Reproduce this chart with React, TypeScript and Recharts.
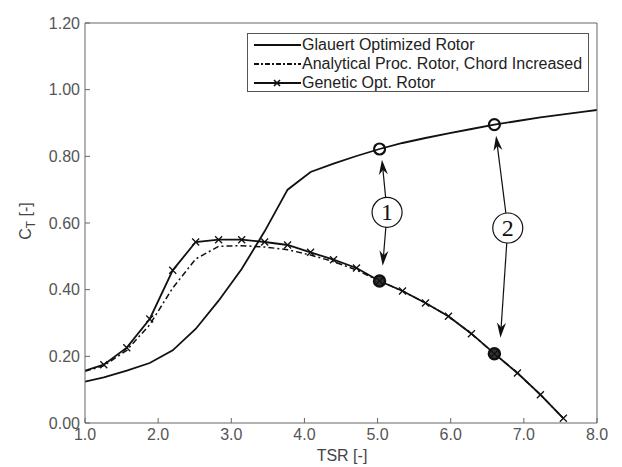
import React from 'react';
import { LineChart, Line, XAxis, YAxis, Legend, ReferenceDot, ReferenceLine, Label } from 'recharts';

// TSR sample points of the optimised rotors (k * pi / 10)
const tsrGrid = [1.257, 1.571, 1.885, 2.199, 2.513, 2.827, 3.142, 3.456, 3.77, 4.084, 4.398,
  4.712, 5.027, 5.341, 5.655, 5.969, 6.283, 6.597, 6.912, 7.226, 7.54];
const optTsr = [1.0, ...tsrGrid];
const glauertTsr = [1.0, ...tsrGrid, 7.854, 8.0];

const glauertCt = [0.124, 0.137, 0.157, 0.18, 0.218, 0.282, 0.367, 0.462, 0.575, 0.7, 0.753, 0.778,
  0.801, 0.822, 0.84, 0.855, 0.869, 0.882, 0.895, 0.906, 0.917, 0.926, 0.935, 0.939];
const analyticalCt = [0.155, 0.172, 0.218, 0.295, 0.405, 0.492, 0.53, 0.532, 0.528, 0.52, 0.504,
  0.484, 0.459, 0.426, 0.396, 0.36, 0.32, 0.268, 0.208, 0.15, 0.085, 0.014];
const geneticCt = [0.157, 0.175, 0.226, 0.312, 0.458, 0.543, 0.55, 0.55, 0.543, 0.534, 0.512,
  0.49, 0.465, 0.426, 0.396, 0.36, 0.32, 0.268, 0.208, 0.15, 0.085, 0.014];

const xTicks = [1, 2, 3, 4, 5, 6, 7, 8];
const yTicks = [0, 0.2, 0.4, 0.6, 0.8, 1.0, 1.2];

// design points (1) and (2)
const designTsr = [5.027, 6.597];
const designGlauert = [0.822, 0.895];
const designGenetic = [0.426, 0.208];
const calloutTsr = [5.13, 6.78];
const calloutCt = [0.632, 0.585];
const calloutLabels = ['1', '2'];
const arrowUpTip = [{ x: 5.06, y: 0.79 }, { x: 6.62, y: 0.862 }];
const arrowDownTip = [{ x: 5.07, y: 0.472 }, { x: 6.68, y: 0.256 }];

const glauertData = glauertTsr.map((tsr, i) => ({ tsr, ct: glauertCt[i] }));
const analyticalData = optTsr.map((tsr, i) => ({ tsr, ct: analyticalCt[i] }));
const geneticData = optTsr.map((tsr, i) => ({ tsr, ct: geneticCt[i] }));

const FONT = '"Liberation Sans", Arial, Helvetica, sans-serif';
const AXIS = '#666';
const INK = '#111';

const CrossDot = (props: any) => {
  const { cx, cy, index } = props;
  if (index === 0 || cx == null) return <g key={`c${index}`} />;
  const s = 3.5;
  return (
    <path key={`c${index}`} d={`M${cx - s},${cy - s}L${cx + s},${cy + s}M${cx - s},${cy + s}L${cx + s},${cy - s}`}
      stroke={INK} strokeWidth={1.3} fill="none" />
  );
};

const OpenCircle = (props: any) => (
  <circle cx={props.cx} cy={props.cy} r={5.5} fill="none" stroke={INK} strokeWidth={2.2} />
);

const HeavyCircle = (props: any) => (
  <circle cx={props.cx} cy={props.cy} r={5.5} fill="#333" stroke={INK} strokeWidth={2.5} />
);

const makeCallout = (text: string) => (props: any) => (
  <g>
    <circle cx={props.cx} cy={props.cy} r={15} fill="#fff" stroke={INK} strokeWidth={1.2} />
    <text x={props.cx} y={props.cy + 8} textAnchor="middle" fontFamily='"Liberation Serif", "DejaVu Serif", serif'
      fontSize={24} fill={INK}>{text}</text>
  </g>
);

// line from the callout circle's edge to the tip, with a notched arrow head
const Arrow = (props: any) => {
  const { x1, y1, x2, y2 } = props;
  const dx = x2 - x1;
  const dy = y2 - y1;
  const len = Math.sqrt(dx * dx + dy * dy) || 1;
  const ux = dx / len;
  const uy = dy / len;
  const sx = x1 + ux * 15;
  const sy = y1 + uy * 15;
  const head = 15;
  const half = 4.5;
  const bx = x2 - ux * head;
  const by = y2 - uy * head;
  const nx = x2 - ux * head * 0.7;
  const ny = y2 - uy * head * 0.7;
  return (
    <g>
      <line x1={sx} y1={sy} x2={nx} y2={ny} stroke={INK} strokeWidth={1.2} />
      <path d={`M${x2},${y2}L${bx - uy * half},${by + ux * half}L${nx},${ny}L${bx + uy * half},${by - ux * half}Z`}
        fill={INK} />
    </g>
  );
};

const legendItems = [
  { name: 'Glauert Optimized Rotor', dash: undefined, cross: false },
  { name: 'Analytical Proc. Rotor, Chord Increased', dash: '5 2 2 2', cross: false },
  { name: 'Genetic Opt. Rotor', dash: undefined, cross: true },
];

const LegendBox = () => (
  <div style={{
    width: 340, height: 56, border: '1px solid #555', background: '#fff', boxSizing: 'content-box',
    fontFamily: FONT, fontSize: 16, color: '#222', paddingTop: 1,
  }}>
    {legendItems.map((item) => (
      <div key={item.name} style={{ display: 'flex', alignItems: 'center', height: 19 }}>
        <svg width={49} height={12} style={{ marginLeft: 5 }}>
          <line x1={1} y1={6} x2={48} y2={6} stroke={INK} strokeWidth={1.8} strokeDasharray={item.dash} />
          {item.cross && <path d="M21,3L27,9M21,9L27,3" stroke={INK} strokeWidth={1.6} />}
        </svg>
        <span style={{ whiteSpace: 'nowrap' }}>{item.name}</span>
      </div>
    ))}
  </div>
);

const tickStyle = { fill: '#555', fontSize: 16, fontFamily: FONT };
const noLabel = () => '';

export default function App() {
  return (
    <div style={{ position: 'absolute', left: 0, top: 0, background: '#fff' }}>
      <LineChart width={622} height={467} margin={{ top: 22, right: 24, bottom: 0, left: 0 }}>
        <XAxis dataKey="tsr" type="number" domain={[1, 8]} ticks={xTicks} allowDataOverflow
          tickFormatter={(v: number) => v.toFixed(1)} tick={tickStyle} tickSize={-5} tickMargin={11}
          height={44} stroke={AXIS}>
          <Label content={() => (
            <text x={342} y={461} textAnchor="middle" fontFamily={FONT} fontSize={16} fill="#444">TSR [-]</text>
          )} />
        </XAxis>
        <XAxis xAxisId="top" orientation="top" type="number" domain={[1, 8]} ticks={xTicks}
          tickFormatter={noLabel} tickSize={-5} height={1} stroke={AXIS} />
        <YAxis type="number" domain={[0, 1.2]} ticks={yTicks} allowDataOverflow
          tickFormatter={(v: number) => v.toFixed(2)} tick={tickStyle} tickSize={-5} tickMargin={10}
          width={85} stroke={AXIS}>
          <Label content={() => (
            <text x={31} y={221} transform="rotate(-90 31 221)" textAnchor="middle" fontFamily={FONT}
              fontSize={16} fill="#444">
              C<tspan dy={4} fontSize={12}>T</tspan><tspan dy={-4}> [-]</tspan>
            </text>
          )} />
        </YAxis>
        <YAxis yAxisId="right" orientation="right" type="number" domain={[0, 1.2]} ticks={yTicks}
          tickFormatter={noLabel} tickSize={-5} width={1} stroke={AXIS} />
        <Legend layout="vertical" align="center" verticalAlign="middle" content={<LegendBox />}
          wrapperStyle={{ left: 247, top: 33, width: 342 }} />
        <Line data={glauertData} dataKey="ct" name="Glauert Optimized Rotor" type="linear" stroke={INK}
          strokeWidth={1.8} dot={false} isAnimationActive={false} />
        <Line data={analyticalData} dataKey="ct" name="Analytical Proc. Rotor, Chord Increased" type="linear"
          stroke={INK} strokeWidth={1.5} strokeDasharray="6 3 2 3" dot={false} isAnimationActive={false} />
        <Line data={geneticData} dataKey="ct" name="Genetic Opt. Rotor" type="linear" stroke={INK}
          strokeWidth={1.8} dot={CrossDot} isAnimationActive={false} />
        {designTsr.map((tsr, i) => (
          <ReferenceDot key={`g${i}`} x={tsr} y={designGlauert[i]} r={5.5} shape={OpenCircle} />
        ))}
        {designTsr.map((tsr, i) => (
          <ReferenceDot key={`o${i}`} x={tsr} y={designGenetic[i]} r={5.5} shape={HeavyCircle} />
        ))}
        {calloutTsr.map((tsr, i) => (
          <ReferenceLine key={`u${i}`} segment={[{ x: tsr, y: calloutCt[i] }, arrowUpTip[i]]} shape={Arrow} />
        ))}
        {calloutTsr.map((tsr, i) => (
          <ReferenceLine key={`d${i}`} segment={[{ x: tsr, y: calloutCt[i] }, arrowDownTip[i]]} shape={Arrow} />
        ))}
        {calloutTsr.map((tsr, i) => (
          <ReferenceDot key={`n${i}`} x={tsr} y={calloutCt[i]} r={15} shape={makeCallout(calloutLabels[i])} />
        ))}
      </LineChart>
    </div>
  );
}
